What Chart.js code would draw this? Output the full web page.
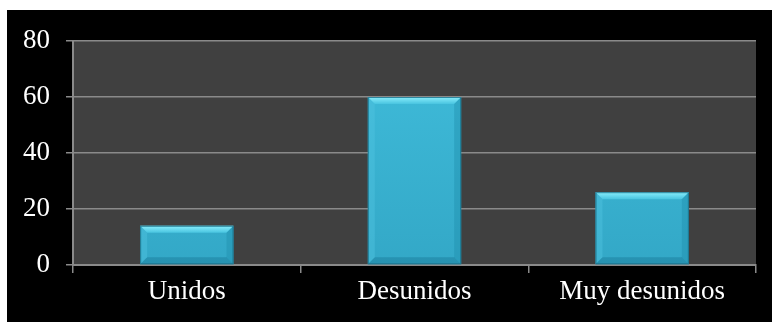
<!DOCTYPE html>
<html>
<head>
<meta charset="utf-8">
<script src="https://cdn.jsdelivr.net/npm/chart.js@4"></script>
<style>
  html, body { margin: 0; padding: 0; background: #ffffff; }
  #wrap { width: 772px; height: 322px; }
</style>
</head>
<body>
<div id="wrap"><canvas id="myPlot1" width="772" height="322"></canvas></div>
<script>
const categories = ["Unidos", "Desunidos", "Muy desunidos"]
const values = [14, 60, 26]
const yTicks = [0, 20, 40, 60, 80]

const plotBackground = {
  id: 'plotBackground',
  beforeDraw: (chart) => {
    const {ctx, chartArea} = chart
    ctx.save()
    ctx.fillStyle = '#ffffff'
    ctx.fillRect(0, 0, chart.width, chart.height)
    ctx.fillStyle = '#000000'
    ctx.fillRect(7, 10, chart.width - 7, chart.height - 10)
    ctx.fillStyle = '#404040'
    ctx.fillRect(chartArea.left, chartArea.top, chartArea.right - chartArea.left, chartArea.bottom - chartArea.top)
    ctx.restore()
  }
}

// soft bevel on each bar, drawn from the bar elements
const bevel = {
  id: 'bevel',
  afterDatasetsDraw: (chart) => {
    const {ctx} = chart
    const meta = chart.getDatasetMeta(0)
    meta.data.forEach(bar => {
      const left = bar.x - bar.width / 2
      const right = bar.x + bar.width / 2
      const top = bar.y
      const bottom = bar.base
      const b = Math.min(7, (bottom - top) / 3)
      ctx.save()
      // top edge highlight
      ctx.beginPath()
      ctx.moveTo(left, top); ctx.lineTo(right, top)
      ctx.lineTo(right - b, top + b); ctx.lineTo(left + b, top + b); ctx.closePath()
      let g = ctx.createLinearGradient(0, top, 0, top + b)
      g.addColorStop(0, '#8aeefc'); g.addColorStop(1, '#48c4e0')
      ctx.fillStyle = g; ctx.fill()
      // left edge
      ctx.beginPath()
      ctx.moveTo(left, top); ctx.lineTo(left + b, top + b)
      ctx.lineTo(left + b, bottom - b); ctx.lineTo(left, bottom); ctx.closePath()
      ctx.fillStyle = 'rgba(80,195,225,0.45)'; ctx.fill()
      // right edge
      ctx.beginPath()
      ctx.moveTo(right, top); ctx.lineTo(right - b, top + b)
      ctx.lineTo(right - b, bottom - b); ctx.lineTo(right, bottom); ctx.closePath()
      ctx.fillStyle = 'rgba(30,140,170,0.4)'; ctx.fill()
      // bottom edge
      ctx.beginPath()
      ctx.moveTo(left, bottom); ctx.lineTo(right, bottom)
      ctx.lineTo(right - b, bottom - b); ctx.lineTo(left + b, bottom - b); ctx.closePath()
      ctx.fillStyle = 'rgba(25,120,150,0.45)'; ctx.fill()
      ctx.strokeStyle = 'rgba(25,110,135,0.8)'
      ctx.lineWidth = 1
      ctx.strokeRect(left + 0.5, top + 0.5, right - left - 1, bottom - top - 1)
      ctx.restore()
    })
  }
}

function barFill(context) {
  const chart = context.chart
  const area = chart.chartArea
  if (!area) return '#3bb6d4'
  const g = chart.ctx.createLinearGradient(0, area.top, 0, area.bottom)
  g.addColorStop(0, '#40bddb')
  g.addColorStop(1, '#33a8c7')
  return g
}

const tickFont = {family: "'Liberation Serif', 'Times New Roman', serif", size: 27}

new Chart(
  "myPlot1",
  {
    type: "bar",
    data: {
      labels: categories,
      datasets: [{
        data: values,
        backgroundColor: barFill,
        borderWidth: 0,
        barPercentage: 0.41,
        categoryPercentage: 1.0
      }]
    },
    options: {
      responsive: false,
      animation: false,
      layout: {padding: {left: 0, right: 16, top: 41, bottom: 0}},
      scales: {
        x: {
          afterFit: (s) => { s.height = 57 },
          grid: {
            display: true,
            offset: true,
            drawOnChartArea: false,
            drawTicks: true,
            tickLength: 8,
            color: '#8a8a8a',
            lineWidth: 1.5
          },
          border: {display: true, color: '#8a8a8a', width: 2},
          ticks: {color: '#ffffff', padding: 3, font: tickFont}
        },
        y: {
          min: 0,
          max: 80,
          afterFit: (s) => { s.width = 73 },
          afterBuildTicks: (s) => { s.ticks = yTicks.map(v => ({value: v})) },
          grid: {
            color: '#8a8a8a',
            lineWidth: 1.5,
            drawTicks: true,
            tickLength: 7
          },
          border: {display: true, color: '#8a8a8a', width: 2},
          ticks: {color: '#ffffff', padding: 16, font: tickFont}
        }
      },
      plugins: {
        legend: {display: false},
        title: {display: false},
        tooltip: {enabled: false}
      }
    },
    plugins: [plotBackground, bevel]
  }
)
</script>
</body>
</html>
